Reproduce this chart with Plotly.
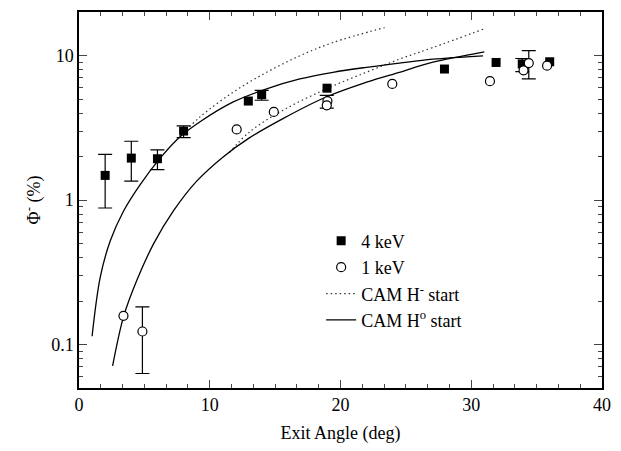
import plotly.graph_objects as go

# ---- data ----
kev4_x = [2.0, 4.0, 6.0, 8.0, 12.95, 13.97, 18.97, 27.95, 31.9, 33.9, 36.0]
kev4_y = [1.48, 1.95, 1.93, 3.0, 4.84, 5.35, 5.94, 8.06, 8.95, 8.75, 9.05]
kev4_hi = [2.07, 2.55, 2.22, 3.26, None, 5.73, None, None, None, 9.53, None]
kev4_lo = [0.88, 1.35, 1.62, 2.70, None, 4.90, None, None, None, 7.73, None]

kev1_x = [3.4, 4.85, 12.06, 14.9, 19.0, 18.95, 23.96, 31.43, 34.0, 34.4, 35.8]
kev1_y = [0.158, 0.123, 3.08, 4.07, 4.84, 4.52, 6.36, 6.64, 7.9, 8.86, 8.5]
kev1_hi = [None, 0.182, None, None, None, 5.3, None, None, None, 10.8, None]
kev1_lo = [None, 0.063, None, None, None, 4.33, None, None, None, 6.88, None]

# CAM H- start (dotted)
hm_a_x = [7.73, 9.26, 11.8, 14.35, 16.89, 19.43, 23.37]
hm_a_y = [2.74, 3.76, 5.58, 7.65, 9.95, 12.3, 15.6]
hm_b_x = [11.5, 13.07, 15.61, 18.92, 21.97, 24.5, 27.06, 31.0]
hm_b_y = [2.13, 2.97, 4.18, 5.88, 7.65, 9.43, 11.35, 15.3]

# CAM H0 start (solid)
h0_a_x = [1.0, 1.63, 2.4, 3.41, 4.68, 6.21, 7.73, 9.26, 11.8, 14.35, 16.89, 19.43, 21.97, 24.5, 27.06, 30.9]
h0_a_y = [0.114, 0.294, 0.524, 0.84, 1.28, 1.95, 2.74, 3.48, 4.77, 5.88, 6.88, 7.65, 8.28, 8.86, 9.43, 9.95]
h0_b_x = [2.57, 3.41, 4.43, 5.7, 7.22, 9.0, 11.0, 13.0, 15.6, 18.9, 22.0, 24.5, 27.0, 31.0]
h0_b_y = [0.071, 0.156, 0.279, 0.497, 0.84, 1.35, 1.98, 2.68, 3.66, 5.16, 6.53, 7.65, 8.95, 10.6]

x_ticks = [0, 10, 20, 30, 40]
y_ticks = [0.1, 1, 10]
y_tick_text = ["0.1", "1", "10"]

FONT = "Liberation Serif"


def err_subset(xs, ys, his, los):
    idx = [i for i, h in enumerate(his) if h is not None]
    return ([xs[i] for i in idx], [ys[i] for i in idx],
            [his[i] - ys[i] for i in idx], [ys[i] - los[i] for i in idx])


fig = go.Figure()

DOT = "1.5px,3px"
fig.add_trace(go.Scatter(x=hm_a_x, y=hm_a_y, mode="lines", line=dict(color="#333", width=1.2, dash=DOT, shape="spline"),
                         name="CAM H<sup>-</sup> start", legendgroup="hm", legendrank=3))
fig.add_trace(go.Scatter(x=hm_b_x, y=hm_b_y, mode="lines", line=dict(color="#333", width=1.2, dash=DOT, shape="spline"),
                         name="CAM H<sup>-</sup> start", legendgroup="hm", showlegend=False))
fig.add_trace(go.Scatter(x=h0_a_x, y=h0_a_y, mode="lines", line=dict(color="black", width=1.3, shape="spline"),
                         name="CAM H<sup>o</sup> start", legendgroup="h0", legendrank=4))
fig.add_trace(go.Scatter(x=h0_b_x, y=h0_b_y, mode="lines", line=dict(color="black", width=1.3, shape="spline"),
                         name="CAM H<sup>o</sup> start", legendgroup="h0", showlegend=False))

for xs, ys, his, los in ((kev4_x, kev4_y, kev4_hi, kev4_lo), (kev1_x, kev1_y, kev1_hi, kev1_lo)):
    ex, ey, up, dn = err_subset(xs, ys, his, los)
    fig.add_trace(go.Scatter(
        x=ex, y=ey, mode="markers", showlegend=False, hoverinfo="skip",
        marker=dict(size=1, color="rgba(0,0,0,0)"),
        error_y=dict(type="data", symmetric=False, array=up, arrayminus=dn,
                     color="black", thickness=1.2, width=7)))

fig.add_trace(go.Scatter(
    x=kev4_x, y=kev4_y, mode="markers", name="4 keV", legendrank=1,
    marker=dict(symbol="square", size=9, color="black")))
fig.add_trace(go.Scatter(
    x=kev1_x, y=kev1_y, mode="markers", name="1 keV", legendrank=2,
    marker=dict(symbol="circle", size=9, color="white", line=dict(color="black", width=1.2))))

minor_y = [v * m for v in (0.01, 0.1, 1, 10) for m in range(2, 10)]
minor_y = [v for v in minor_y if 0.05 <= v <= 20]

fig.update_layout(
    width=621, height=451,
    margin=dict(l=79, r=18, t=10, b=63),
    paper_bgcolor="white", plot_bgcolor="white",
    font=dict(family=FONT, size=18, color="black"),
    showlegend=True,
    legend=dict(x=0.463, y=0.44, xanchor="left", yanchor="top", bgcolor="rgba(0,0,0,0)",
                font=dict(family=FONT, size=18), traceorder="normal", tracegroupgap=0),
    xaxis=dict(range=[0, 40], tickvals=x_ticks, ticks="inside", ticklen=8, tickwidth=1.3,
               showline=True, linecolor="black", linewidth=1.5, mirror="ticks",
               showgrid=False, zeroline=False,
               minor=dict(dtick=10 / 6, tick0=0, ticks="inside", ticklen=4, tickwidth=1.2, showgrid=False),
               title=dict(text="Exit Angle (deg)", font=dict(size=18), standoff=12)),
    yaxis=dict(type="log", range=[-1.30103, 1.30103], tickvals=y_ticks, ticktext=y_tick_text,
               ticks="inside", ticklen=8, tickwidth=1.3,
               showline=True, linecolor="black", linewidth=1.5, mirror="ticks",
               showgrid=False, zeroline=False,
               minor=dict(tickvals=minor_y, ticks="inside", ticklen=4, tickwidth=1.2, showgrid=False),
               title=dict(text="Φ<sup>-</sup> (%)", font=dict(size=18), standoff=6)),
)

fig.write_html("out.html")
